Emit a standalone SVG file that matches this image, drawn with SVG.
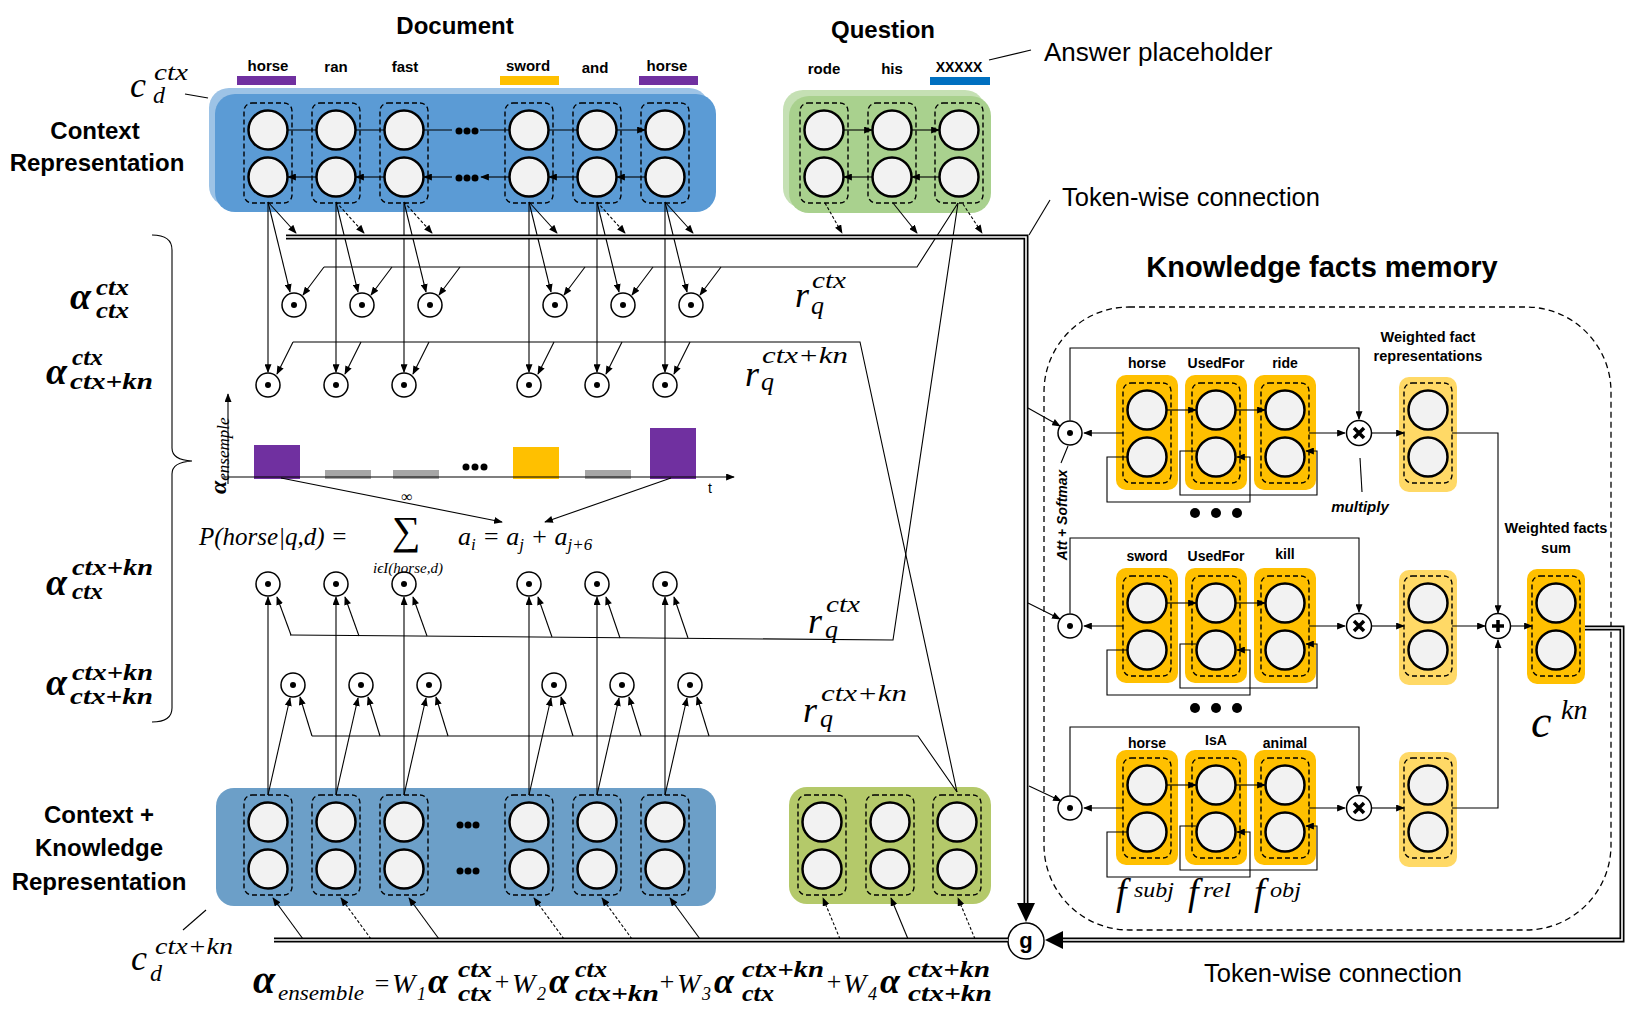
<svg xmlns="http://www.w3.org/2000/svg" xmlns:xlink="http://www.w3.org/1999/xlink" width="1632" height="1017" viewBox="0 0 1632 1017">
<style>
.t{font-family:"Liberation Sans","Noto Sans",Arial,sans-serif}
.b{font-weight:bold}
.m{font-family:"Liberation Serif","DejaVu Serif",serif;font-style:italic}
.mb{font-family:"Liberation Serif","DejaVu Serif",serif;font-style:italic;font-weight:bold}
.mr{font-family:"Liberation Serif","DejaVu Serif",serif}
.nc{fill:#F2F2F2;stroke:#000;stroke-width:2.5}
.dr{fill:none;stroke:#000;stroke-width:1.4;stroke-dasharray:5 3}
.l{fill:none;stroke:#000;stroke-width:1.1}
.la{fill:none;stroke:#000;stroke-width:1.1;marker-end:url(#ah)}
.ld{fill:none;stroke:#000;stroke-width:1.1;stroke-dasharray:3 2;marker-end:url(#ah)}
.op{fill:#fff;stroke:#000;stroke-width:1.5}
.dl1{fill:none;stroke:#000;stroke-width:5}
.dl2{fill:none;stroke:#fff;stroke-width:1.6}
.fb{fill:#FFC000}
.wb{fill:#FFD966}
</style>
<defs>
<marker id="ah" viewBox="0 0 10 8" refX="9" refY="4" markerWidth="9" markerHeight="7" orient="auto" markerUnits="userSpaceOnUse"><path d="M0,0 L10,4 L0,8 z" fill="#000"/></marker>
<g id="col"><rect x="-24" y="0" width="48" height="100" rx="8" class="dr"/><circle cx="0" cy="27" r="19.5" class="nc"/><circle cx="0" cy="74" r="19.5" class="nc"/></g>
<g id="odot"><circle r="12" class="op"/><circle r="3" fill="#000"/></g>
<g id="otimes"><circle r="12.5" class="op"/><path d="M-5,-5 L5,5 M5,-5 L-5,5" stroke="#000" stroke-width="3.5"/></g>
<g id="oplus"><circle r="12.5" class="op"/><path d="M-6,0 H6 M0,-6 V6" stroke="#000" stroke-width="3.5"/></g>
</defs>
<rect width="1632" height="1017" fill="#fff"/>

<g id="titles" class="t b">
<text x="455" y="34" font-size="24" text-anchor="middle">Document</text>
<text x="883" y="38" font-size="24" text-anchor="middle">Question</text>
<text x="1322" y="277" font-size="29" text-anchor="middle">Knowledge facts memory</text>
<text x="95" y="139" font-size="24" text-anchor="middle">Context</text>
<text x="97" y="171" font-size="24" text-anchor="middle">Representation</text>
<text x="99" y="823" font-size="24" text-anchor="middle">Context +</text>
<text x="99" y="856" font-size="24" text-anchor="middle">Knowledge</text>
<text x="99" y="890" font-size="24" text-anchor="middle">Representation</text>
</g>
<g id="plain-labels" class="t">
<text x="1044" y="61" font-size="26">Answer placeholder</text>
<text x="1062" y="206" font-size="25.5">Token-wise connection</text>
<text x="1333" y="982" font-size="25.5" text-anchor="middle">Token-wise connection</text>
</g>

<g id="ctx-document">
<rect x="209" y="88" width="500" height="118" rx="20" fill="#9DC3E6"/>
<rect x="215" y="94" width="501" height="118" rx="20" fill="#5B9BD5"/>
<use href="#col" x="268" y="103"/><use href="#col" x="336" y="103"/><use href="#col" x="404" y="103"/>
<use href="#col" x="529" y="103"/><use href="#col" x="597" y="103"/><use href="#col" x="665" y="103"/>
<g fill="#000"><circle cx="459" cy="131" r="3.5"/><circle cx="467" cy="131" r="3.5"/><circle cx="475" cy="131" r="3.5"/>
<circle cx="459" cy="178" r="3.5"/><circle cx="467" cy="178" r="3.5"/><circle cx="475" cy="178" r="3.5"/></g>
<path class="la" d="M288,130 H316 M356,130 H384 M424,130 H452 M480,130 H509 M549,130 H577 M617,130 H645"/>
<path class="la" d="M316,177 H288"/><path class="la" d="M384,177 H356"/><path class="la" d="M452,177 H424"/><path class="la" d="M509,177 H481"/><path class="la" d="M577,177 H549"/><path class="la" d="M645,177 H617"/>
<g class="t b" font-size="15" text-anchor="middle">
<text x="268" y="71">horse</text><text x="336" y="72">ran</text><text x="405" y="72">fast</text>
<text x="528" y="71">sword</text><text x="595" y="73">and</text><text x="667" y="71">horse</text></g>
<rect x="237" y="76" width="59" height="9" fill="#7030A0"/>
<rect x="500" y="76" width="59" height="9" fill="#FFC000"/>
<rect x="639" y="76" width="59" height="9" fill="#7030A0"/>
</g>

<g id="ctx-question">
<rect x="783" y="90" width="202" height="118" rx="20" fill="#C5E0B4"/>
<rect x="789" y="96" width="202" height="117" rx="20" fill="#A9D18E"/>
<use href="#col" x="824" y="103"/><use href="#col" x="892" y="103"/><use href="#col" x="959" y="103"/>
<path class="la" d="M844,130 H872"/><path class="la" d="M912,130 H939"/>
<path class="la" d="M872,177 H844"/><path class="la" d="M939,177 H912"/>
<g class="t b" font-size="15" text-anchor="middle"><text x="824" y="74">rode</text><text x="892" y="74">his</text><text x="959" y="72" font-size="14">XXXXX</text></g>
<rect x="930" y="77" width="60" height="8" fill="#0070C0"/>
</g>

<g id="ckn-document">
<rect x="216" y="788" width="500" height="118" rx="18" fill="#6C9FC8"/>
<use href="#col" x="268" y="795"/><use href="#col" x="336" y="795"/><use href="#col" x="404" y="795"/>
<use href="#col" x="529" y="795"/><use href="#col" x="597" y="795"/><use href="#col" x="665" y="795"/>
<g fill="#000"><circle cx="460" cy="825" r="3.5"/><circle cx="468" cy="825" r="3.5"/><circle cx="476" cy="825" r="3.5"/>
<circle cx="460" cy="871" r="3.5"/><circle cx="468" cy="871" r="3.5"/><circle cx="476" cy="871" r="3.5"/></g>
</g>

<g id="ckn-question">
<rect x="789" y="787" width="202" height="117" rx="18" fill="#B4C96A"/>
<use href="#col" x="822" y="795"/><use href="#col" x="890" y="795"/><use href="#col" x="957" y="795"/>
</g>

<g id="att-ctx-ctx"><use href="#odot" x="294" y="305"/><use href="#odot" x="362" y="305"/><use href="#odot" x="430" y="305"/><use href="#odot" x="555" y="305"/><use href="#odot" x="623" y="305"/><use href="#odot" x="691" y="305"/></g>
<g id="att-ctx-ctxkn"><use href="#odot" x="268" y="385"/><use href="#odot" x="336" y="385"/><use href="#odot" x="404" y="385"/><use href="#odot" x="529" y="385"/><use href="#odot" x="597" y="385"/><use href="#odot" x="665" y="385"/></g>
<g id="att-ctxkn-ctx"><use href="#odot" x="268" y="584"/><use href="#odot" x="336" y="584"/><use href="#odot" x="404" y="584"/><use href="#odot" x="529" y="584"/><use href="#odot" x="597" y="584"/><use href="#odot" x="665" y="584"/></g>
<g id="att-ctxkn-ctxkn"><use href="#odot" x="293" y="685"/><use href="#odot" x="361" y="685"/><use href="#odot" x="429" y="685"/><use href="#odot" x="554" y="685"/><use href="#odot" x="622" y="685"/><use href="#odot" x="690" y="685"/></g>

<g id="histogram">
<rect x="254" y="445" width="46" height="34" fill="#7030A0"/>
<rect x="325" y="470" width="46" height="9" fill="#A6A6A6"/>
<rect x="393" y="470" width="46" height="9" fill="#A6A6A6"/>
<rect x="513" y="447" width="46" height="32" fill="#FFC000"/>
<rect x="585" y="470" width="46" height="9" fill="#A6A6A6"/>
<rect x="650" y="428" width="46" height="51" fill="#7030A0"/>
<g fill="#000"><circle cx="466" cy="467" r="3.5"/><circle cx="475" cy="467" r="3.5"/><circle cx="484" cy="467" r="3.5"/></g>
<path class="la" d="M228,484 V394"/>
<path class="la" d="M222,477 H734"/>
<text class="t" x="710" y="493" font-size="14" text-anchor="middle">t</text>
<text transform="translate(226,494) rotate(-90)"><tspan class="mb" font-size="24">α</tspan><tspan class="m" font-size="17" dy="3">ensemple</tspan></text>
</g>

<g id="prob-formula">
<text class="m" x="199" y="545" font-size="25">P(horse|q,d) =</text>
<text class="mr" font-size="40" text-anchor="middle"><tspan x="406" y="544">∑</tspan><tspan x="407" y="502" font-size="16">∞</tspan></text>
<text class="m" x="408" y="573" font-size="15" text-anchor="middle">iϵI(horse,d)</text>
<text class="m" x="458" y="545" font-size="26">a<tspan font-size="17" dy="5">i</tspan><tspan dy="-5"> = a</tspan><tspan font-size="17" dy="5">j</tspan><tspan dy="-5"> + a</tspan><tspan font-size="17" dy="5">j+6</tspan></text>
</g>

<g id="alpha-labels" class="mb">
<text font-size="23"><tspan x="70" y="309" font-size="38">α</tspan><tspan x="96" y="295" textLength="33" lengthAdjust="spacingAndGlyphs">ctx</tspan><tspan x="96" y="318" textLength="33" lengthAdjust="spacingAndGlyphs">ctx</tspan></text>
<text font-size="23"><tspan x="46" y="384" font-size="38">α</tspan><tspan x="72" y="365" textLength="31" lengthAdjust="spacingAndGlyphs">ctx</tspan><tspan x="70" y="389" textLength="83" lengthAdjust="spacingAndGlyphs">ctx+kn</tspan></text>
<text font-size="23"><tspan x="46" y="595" font-size="38">α</tspan><tspan x="72" y="575" textLength="81" lengthAdjust="spacingAndGlyphs">ctx+kn</tspan><tspan x="72" y="599" textLength="31" lengthAdjust="spacingAndGlyphs">ctx</tspan></text>
<text font-size="23"><tspan x="46" y="695" font-size="38">α</tspan><tspan x="72" y="680" textLength="81" lengthAdjust="spacingAndGlyphs">ctx+kn</tspan><tspan x="70" y="704" textLength="83" lengthAdjust="spacingAndGlyphs">ctx+kn</tspan></text>
</g>
<path id="brace" class="l" d="M152,235 Q172,235 172,250 L172,448 Q172,460 192,461 Q172,462 172,474 L172,708 Q172,722 152,722"/>

<g id="rq-labels" class="m">
<text font-size="24"><tspan x="795" y="307" font-size="36">r</tspan><tspan x="811" y="314" font-size="26">q</tspan><tspan x="812" y="288" textLength="34" lengthAdjust="spacingAndGlyphs">ctx</tspan></text>
<text font-size="24"><tspan x="745" y="386" font-size="36">r</tspan><tspan x="761" y="390" font-size="26">q</tspan><tspan x="762" y="363" textLength="86" lengthAdjust="spacingAndGlyphs">ctx+kn</tspan></text>
<text font-size="24"><tspan x="808" y="633" font-size="36">r</tspan><tspan x="825" y="638" font-size="26">q</tspan><tspan x="826" y="612" textLength="34" lengthAdjust="spacingAndGlyphs">ctx</tspan></text>
<text font-size="24"><tspan x="803" y="722" font-size="36">r</tspan><tspan x="820" y="727" font-size="26">q</tspan><tspan x="821" y="701" textLength="86" lengthAdjust="spacingAndGlyphs">ctx+kn</tspan></text>
</g>

<g id="c-labels" class="m">
<text font-size="24"><tspan x="130" y="97" font-size="36">c</tspan><tspan x="154" y="80" textLength="34" lengthAdjust="spacingAndGlyphs">ctx</tspan><tspan x="153" y="103">d</tspan></text>
<text font-size="24"><tspan x="131" y="970" font-size="36">c</tspan><tspan x="155" y="954" textLength="78" lengthAdjust="spacingAndGlyphs">ctx+kn</tspan><tspan x="150" y="981">d</tspan></text>
<text><tspan x="1531" y="737" font-size="46">c</tspan><tspan x="1561" y="719" font-size="28">kn</tspan></text>
<text font-size="22"><tspan x="1116" y="905" font-size="38">f</tspan><tspan x="1134" y="897" textLength="40" lengthAdjust="spacingAndGlyphs">subj</tspan></text>
<text font-size="22"><tspan x="1188" y="905" font-size="38">f</tspan><tspan x="1203" y="897" textLength="28" lengthAdjust="spacingAndGlyphs">rel</tspan></text>
<text font-size="22"><tspan x="1254" y="905" font-size="38">f</tspan><tspan x="1270" y="897" textLength="31" lengthAdjust="spacingAndGlyphs">obj</tspan></text>
</g>

<g id="ensemble-formula">
<text class="m" font-size="24">
<tspan class="mb" x="253" y="993" font-size="40">α</tspan><tspan x="278" y="1000" font-size="22" textLength="86" lengthAdjust="spacingAndGlyphs">ensemble</tspan>
<tspan class="mr" x="373" y="992" font-size="26">=</tspan>
<tspan x="392" y="993" font-size="28">W</tspan><tspan x="417" y="1000" font-size="18">1</tspan>
<tspan class="mb" x="428" y="993" font-size="36">α</tspan><tspan class="mb" x="458" y="977" textLength="34" lengthAdjust="spacingAndGlyphs">ctx</tspan><tspan class="mb" x="458" y="1001" textLength="34" lengthAdjust="spacingAndGlyphs">ctx</tspan>
<tspan class="mr" x="493" y="990" font-size="26">+</tspan>
<tspan x="512" y="993" font-size="28">W</tspan><tspan x="537" y="1000" font-size="18">2</tspan>
<tspan class="mb" x="549" y="993" font-size="36">α</tspan><tspan class="mb" x="575" y="977" textLength="32" lengthAdjust="spacingAndGlyphs">ctx</tspan><tspan class="mb" x="575" y="1001" textLength="84" lengthAdjust="spacingAndGlyphs">ctx+kn</tspan>
<tspan class="mr" x="658" y="990" font-size="26">+</tspan>
<tspan x="677" y="993" font-size="28">W</tspan><tspan x="702" y="1000" font-size="18">3</tspan>
<tspan class="mb" x="714" y="993" font-size="36">α</tspan><tspan class="mb" x="742" y="977" textLength="82" lengthAdjust="spacingAndGlyphs">ctx+kn</tspan><tspan class="mb" x="742" y="1001" textLength="32" lengthAdjust="spacingAndGlyphs">ctx</tspan>
<tspan class="mr" x="825" y="990" font-size="26">+</tspan>
<tspan x="843" y="993" font-size="28">W</tspan><tspan x="868" y="1000" font-size="18">4</tspan>
<tspan class="mb" x="880" y="993" font-size="36">α</tspan><tspan class="mb" x="908" y="977" textLength="82" lengthAdjust="spacingAndGlyphs">ctx+kn</tspan><tspan class="mb" x="908" y="1001" textLength="84" lengthAdjust="spacingAndGlyphs">ctx+kn</tspan>
</text>
</g>

<g id="kfm-container"><rect x="1044" y="307" width="567" height="623" rx="85" fill="none" stroke="#000" stroke-width="1.3" stroke-dasharray="6 4"/></g>

<g id="fact-horse-usedfor-ride" transform="translate(0,383)">
<rect class="fb" x="1116" y="-8" width="62" height="115" rx="10"/><rect class="fb" x="1185" y="-8" width="62" height="115" rx="10"/><rect class="fb" x="1254" y="-8" width="62" height="115" rx="10"/>
<use href="#col" x="1147"/><use href="#col" x="1216"/><use href="#col" x="1285"/>
<g class="t b" font-size="14" text-anchor="middle"><text x="1147" y="-15">horse</text><text x="1216" y="-15">UsedFor</text><text x="1285" y="-15">ride</text></g>
</g>
<g id="fact-sword-usedfor-kill" transform="translate(0,576)">
<rect class="fb" x="1116" y="-8" width="62" height="115" rx="10"/><rect class="fb" x="1185" y="-8" width="62" height="115" rx="10"/><rect class="fb" x="1254" y="-8" width="62" height="115" rx="10"/>
<use href="#col" x="1147"/><use href="#col" x="1216"/><use href="#col" x="1285"/>
<g class="t b" font-size="14" text-anchor="middle"><text x="1147" y="-15">sword</text><text x="1216" y="-15">UsedFor</text><text x="1285" y="-17">kill</text></g>
</g>
<g id="fact-horse-isa-animal" transform="translate(0,758)">
<rect class="fb" x="1116" y="-8" width="62" height="115" rx="10"/><rect class="fb" x="1185" y="-8" width="62" height="115" rx="10"/><rect class="fb" x="1254" y="-8" width="62" height="115" rx="10"/>
<use href="#col" x="1147"/><use href="#col" x="1216"/><use href="#col" x="1285"/>
<g class="t b" font-size="14" text-anchor="middle"><text x="1147" y="-10">horse</text><text x="1216" y="-13">IsA</text><text x="1285" y="-10">animal</text></g>
</g>

<g id="weighted-facts">
<rect class="wb" x="1399" y="377" width="58" height="115" rx="10"/><use href="#col" x="1428" y="383"/>
<rect class="wb" x="1399" y="570" width="58" height="115" rx="10"/><use href="#col" x="1428" y="576"/>
<rect class="wb" x="1399" y="752" width="58" height="115" rx="10"/><use href="#col" x="1428" y="758"/>
<g class="t b" font-size="14.5" text-anchor="middle"><text x="1428" y="342">Weighted fact</text><text x="1428" y="361">representations</text></g>
</g>
<g id="weighted-sum">
<rect class="fb" x="1527" y="569" width="58" height="115" rx="10"/><use href="#col" x="1556" y="576"/>
<g class="t b" font-size="14.5" text-anchor="middle"><text x="1556" y="533">Weighted facts</text><text x="1556" y="553">sum</text></g>
</g>

<g id="fact-ops">
<use href="#odot" x="1070" y="433"/><use href="#odot" x="1070" y="626"/><use href="#odot" x="1070" y="808"/>
<use href="#otimes" x="1359" y="433"/><use href="#otimes" x="1359" y="626"/><use href="#otimes" x="1359" y="808"/>
<use href="#oplus" x="1498" y="626"/>
<g fill="#000"><circle cx="1195" cy="513" r="5"/><circle cx="1216" cy="513" r="5"/><circle cx="1237" cy="513" r="5"/>
<circle cx="1195" cy="708" r="5"/><circle cx="1216" cy="708" r="5"/><circle cx="1237" cy="708" r="5"/></g>
<text class="t b" font-size="15" font-style="italic" x="1360" y="512" text-anchor="middle">multiply</text>
<text class="t b" font-size="14" font-style="italic" transform="translate(1067,515) rotate(-90)" text-anchor="middle">Att + Softmax</text>
</g>

<g id="gate"><circle cx="1026" cy="941" r="18" class="op"/><text class="t b" x="1026" y="948" font-size="22" text-anchor="middle">g</text></g>

<g id="connectors">
<path class="l" d="M989,60 L1031,50"/>
<path class="l" d="M1050,200 L1029,235"/>
<path class="l" d="M185,94 L208,98"/>
<path class="l" d="M183,930 L206,910"/>
<path class="l" d="M1360,458 L1362,492"/>
<path class="l" d="M1068,446 L1061,463"/>

<path class="la" d="M268,202 L296,233"/><path class="ld" d="M336,202 L364,233"/><path class="ld" d="M404,202 L432,233"/>
<path class="la" d="M529,202 L557,233"/><path class="ld" d="M597,202 L625,233"/><path class="la" d="M665,202 L693,233"/>
<path class="ld" d="M825,203 L842,233"/><path class="la" d="M893,203 L917,233"/><path class="ld" d="M963,204 L982,233"/>

<path class="la" d="M268,202 L290,292"/><path class="la" d="M336,202 L358,292"/><path class="la" d="M404,202 L426,292"/>
<path class="la" d="M529,202 L551,292"/><path class="la" d="M597,202 L619,292"/><path class="la" d="M665,202 L687,292"/>
<path class="la" d="M324,267 L303,295"/><path class="la" d="M392,267 L371,295"/><path class="la" d="M460,267 L439,295"/>
<path class="la" d="M585,267 L564,295"/><path class="la" d="M653,267 L632,295"/><path class="la" d="M721,267 L700,295"/>

<path class="la" d="M268,202 V372"/><path class="la" d="M336,202 V372"/><path class="la" d="M404,202 V372"/>
<path class="la" d="M529,202 V372"/><path class="la" d="M597,202 V372"/><path class="la" d="M665,202 V372"/>
<path class="la" d="M293,342 L277,374"/><path class="la" d="M361,342 L345,374"/><path class="la" d="M429,342 L413,374"/>
<path class="la" d="M554,342 L538,374"/><path class="la" d="M622,342 L606,374"/><path class="la" d="M690,342 L674,374"/>

<path class="l" d="M324,267 H917 L958,203"/>
<path class="l" d="M293,342 H860 L957,792"/>
<path class="l" d="M958,203 L893,640 L290,635"/>
<path class="l" d="M312,736 H918 L957,792"/>

<path class="la" d="M268,795 V597"/><path class="la" d="M336,795 V597"/><path class="la" d="M404,795 V597"/>
<path class="la" d="M529,795 V597"/><path class="la" d="M597,795 V597"/><path class="la" d="M665,795 V597"/>
<path class="la" d="M291,635 L277,597"/><path class="la" d="M359,636 L345,597"/><path class="la" d="M427,636 L413,597"/>
<path class="la" d="M552,637 L538,597"/><path class="la" d="M620,638 L606,597"/><path class="la" d="M688,638 L674,597"/>
<path class="la" d="M268,795 L290,698"/><path class="la" d="M336,795 L358,698"/><path class="la" d="M404,795 L426,698"/>
<path class="la" d="M529,795 L551,698"/><path class="la" d="M597,795 L619,698"/><path class="la" d="M665,795 L687,698"/>
<path class="la" d="M312,736 L300,697"/><path class="la" d="M380,736 L368,697"/><path class="la" d="M448,736 L436,697"/>
<path class="la" d="M573,736 L561,697"/><path class="la" d="M641,736 L629,697"/><path class="la" d="M709,736 L697,697"/>

<path class="la" d="M303,939 L273,898"/><path class="ld" d="M371,939 L341,898"/><path class="la" d="M439,939 L409,898"/>
<path class="ld" d="M564,939 L534,898"/><path class="ld" d="M632,939 L602,898"/><path class="la" d="M700,939 L670,898"/>
<path class="ld" d="M840,939 L823,898"/><path class="la" d="M908,939 L891,898"/><path class="ld" d="M975,939 L958,898"/>

<path class="la" d="M281,478 L502,522"/>
<path class="la" d="M671,478 L545,522"/>

<g id="token-wise-lines">
<path class="dl1" d="M286,237 H1026 V903"/><path class="dl2" d="M286,237 H1026 V903"/>
<path class="dl1" d="M1585,628 H1622 V940 H1063"/><path class="dl2" d="M1585,628 H1622 V940 H1063"/>
<path class="dl1" d="M274,940 H1008"/><path class="dl2" d="M274,940 H1008"/>
<polygon points="1017,903 1035,903 1026,922" fill="#000"/>
<polygon points="1063,931 1063,949 1045,940" fill="#000"/>
</g>

<path class="la" d="M1028,408 L1060,426"/>
<path class="la" d="M1028,603 L1060,619"/>
<path class="la" d="M1029,786 L1061,801"/>

<g transform="translate(0,383)">
<path class="la" d="M1123,50 H1084"/><path class="la" d="M1070,37.5 V-35 H1359 V36"/>
<path class="la" d="M1167,27 H1196"/><path class="la" d="M1236,27 H1265"/>
<path class="la" d="M1127,74 H1107 V119 H1250 V74 H1237"/>
<path class="la" d="M1196,68 H1180 V112 H1317 V68 H1306"/>
<path class="la" d="M1309,50 H1345"/><path class="la" d="M1372,50 H1404"/>
</g>
<g transform="translate(0,576)">
<path class="la" d="M1123,50 H1084"/><path class="la" d="M1070,37.5 V-38 H1359 V36"/>
<path class="la" d="M1167,27 H1196"/><path class="la" d="M1236,27 H1265"/>
<path class="la" d="M1127,74 H1107 V119 H1250 V74 H1237"/>
<path class="la" d="M1196,68 H1180 V112 H1317 V68 H1306"/>
<path class="la" d="M1309,50 H1345"/><path class="la" d="M1372,50 H1404"/>
</g>
<g transform="translate(0,758)">
<path class="la" d="M1123,50 H1084"/><path class="la" d="M1070,37.5 V-31 H1359 V36"/>
<path class="la" d="M1167,27 H1196"/><path class="la" d="M1236,27 H1265"/>
<path class="la" d="M1127,74 H1107 V119 H1250 V74 H1237"/>
<path class="la" d="M1196,68 H1180 V112 H1317 V68 H1306"/>
<path class="la" d="M1309,50 H1345"/><path class="la" d="M1372,50 H1404"/>
</g>
<path class="la" d="M1452,433 H1498 V613"/>
<path class="la" d="M1452,808 H1498 V640"/>
<path class="la" d="M1452,626 H1485"/>
<path class="la" d="M1511,626 H1532"/>
</g>
</svg>
